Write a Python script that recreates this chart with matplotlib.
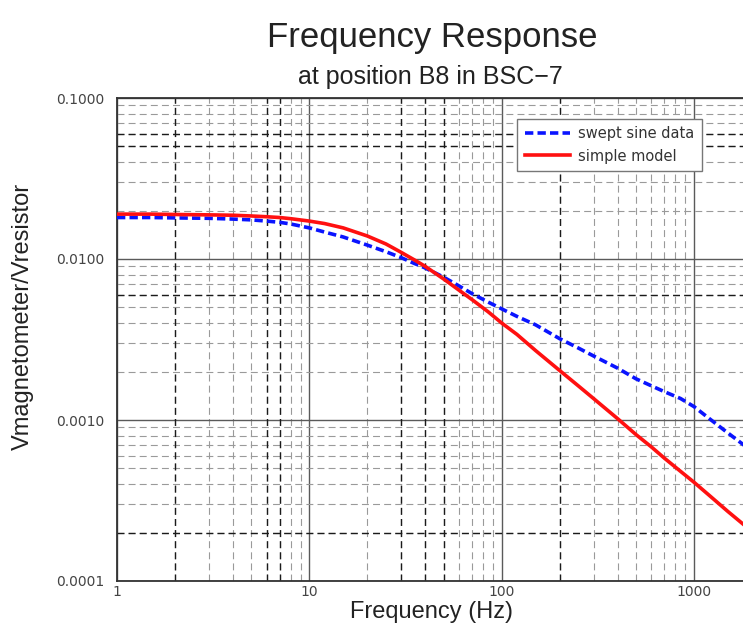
import matplotlib
matplotlib.use("Agg")
import matplotlib.pyplot as plt
from matplotlib.ticker import FixedLocator, NullFormatter

plt.rcParams['lines.scale_dashes'] = False

# values
freq_hz = [1, 1.5, 2, 3, 4, 5, 6, 7, 8, 10, 12, 15, 20, 25, 30, 35, 40, 50,
           60, 70, 85, 100, 120, 150, 200, 250, 300, 400, 500, 600, 700, 850,
           1000, 1200, 1500, 2000]
swept_sine = [0.0181, 0.0181, 0.0180, 0.0179, 0.0177, 0.0175, 0.0172, 0.0169,
              0.0165, 0.0156, 0.0147, 0.0137, 0.0122, 0.0111, 0.0102, 0.0094,
              0.0088, 0.0077, 0.0068, 0.0061, 0.0054, 0.0049, 0.0044, 0.0039,
              0.0032, 0.0028, 0.0025, 0.0021, 0.00180, 0.00163, 0.00150,
              0.00136, 0.00121, 0.00102, 0.00083, 0.00064]
simple_model = [0.0190, 0.0190, 0.0189, 0.0188, 0.0187, 0.0185, 0.0183, 0.0181,
                0.0178, 0.0172, 0.0166, 0.0156, 0.0139, 0.0124, 0.0110, 0.0099,
                0.0090, 0.0075, 0.0064, 0.0056, 0.0047, 0.0040, 0.0034, 0.0027,
                0.00203, 0.00163, 0.00136, 0.00102, 0.00081, 0.00068, 0.00058,
                0.00048, 0.00041, 0.00034, 0.00027, 0.000203]

x_major = [1, 10, 100, 1000]
x_labels = ["1", "10", "100", "1000"]
y_major = [0.0001, 0.001, 0.01, 0.1]
y_labels = ["0.0001", "0.0010", "0.0100", "0.1000"]

# minor grid lines that come out darker in the reference
dark_minor_x = [2, 6, 7, 30, 40, 50, 200]
dark_minor_y = [0.06, 0.05, 0.006, 0.0002]

W, H = 743, 635
fig = plt.figure(figsize=(W / 100, H / 100), dpi=100)

# plot box in pixels: left 117, right 752 (cut off by the figure), top 98, bottom 581
left, right, top, bottom = 117, 752, 98, 581
ax = fig.add_axes([left / W, 1 - bottom / H, (right - left) / W, (bottom - top) / H])
ax.set_xscale('log')
ax.set_yscale('log')
ax.set_xlim(1, 2000)
ax.set_ylim(1e-4, 1e-1)

minor_x = [m * d for d in [1, 10, 100, 1000] for m in range(2, 10)]
minor_y = [m * d for d in [1e-4, 1e-3, 1e-2] for m in range(2, 10)]

ax.xaxis.set_major_locator(FixedLocator(x_major))
ax.set_xticklabels(x_labels)
ax.yaxis.set_major_locator(FixedLocator(y_major))
ax.set_yticklabels(y_labels)
ax.xaxis.set_minor_locator(FixedLocator(minor_x))
ax.yaxis.set_minor_locator(FixedLocator(minor_y))
ax.xaxis.set_minor_formatter(NullFormatter())
ax.yaxis.set_minor_formatter(NullFormatter())
ax.tick_params(which='both', length=0)
ax.tick_params(axis='y', pad=9, labelsize=10, labelcolor='#444444')
ax.tick_params(axis='x', pad=3, labelsize=10, labelcolor='#444444')

ax.set_axisbelow(True)
ax.grid(which='major', color='#5a5a5a', linewidth=1.0, linestyle='-')
ax.grid(which='minor', color='#9a9a9a', linewidth=0.8, dashes=(5, 3))
for xv in dark_minor_x:
    ax.axvline(xv, color='#1a1a1a', linewidth=1.0, dashes=(5, 3), zorder=1)
for yv in dark_minor_y:
    ax.axhline(yv, color='#1a1a1a', linewidth=1.0, dashes=(5, 3), zorder=1)

ax.plot(freq_hz, swept_sine, color='#0a14ff', linewidth=2.6, dashes=(6, 3),
        label='swept sine data', zorder=3)
ax.plot(freq_hz, simple_model, color='#ff1010', linewidth=2.6,
        label='simple model', zorder=3)

for side in ['top', 'left', 'bottom']:
    ax.spines[side].set_color('#333333')
    ax.spines[side].set_linewidth(1.3)
ax.spines['right'].set_visible(False)

leg = ax.legend(loc='upper right', bbox_to_anchor=(702 / W, 1 - 119 / H),
                bbox_transform=fig.transFigure, borderaxespad=0, fancybox=False,
                framealpha=1, edgecolor='#777777', fontsize=10.5,
                handlelength=3.1, handletextpad=0.6, labelspacing=0.5,
                borderpad=0.5)
leg.get_frame().set_linewidth(1.0)
for t in leg.get_texts():
    t.set_color('#333333')

font = 'Liberation Sans'
fig.text(432 / W, 1 - 47 / H, 'Frequency Response', ha='center', va='baseline',
         fontsize=25, family=font, color='#222222')
fig.text(430 / W, 1 - 84 / H, 'at position B8 in BSC\u22127', ha='center',
         va='baseline', fontsize=18, family=font, color='#222222')
fig.text(432 / W, 1 - 612 / H, 'Frequency (Hz)', ha='center', va='center',
         fontsize=17, family=font, color='#222222')
fig.text(23 / W, 1 - 316 / H, 'Vmagnetometer/Vresistor', ha='center',
         va='center', rotation=90, fontsize=17, family=font, color='#222222')

fig.savefig('out.png', dpi=100)
